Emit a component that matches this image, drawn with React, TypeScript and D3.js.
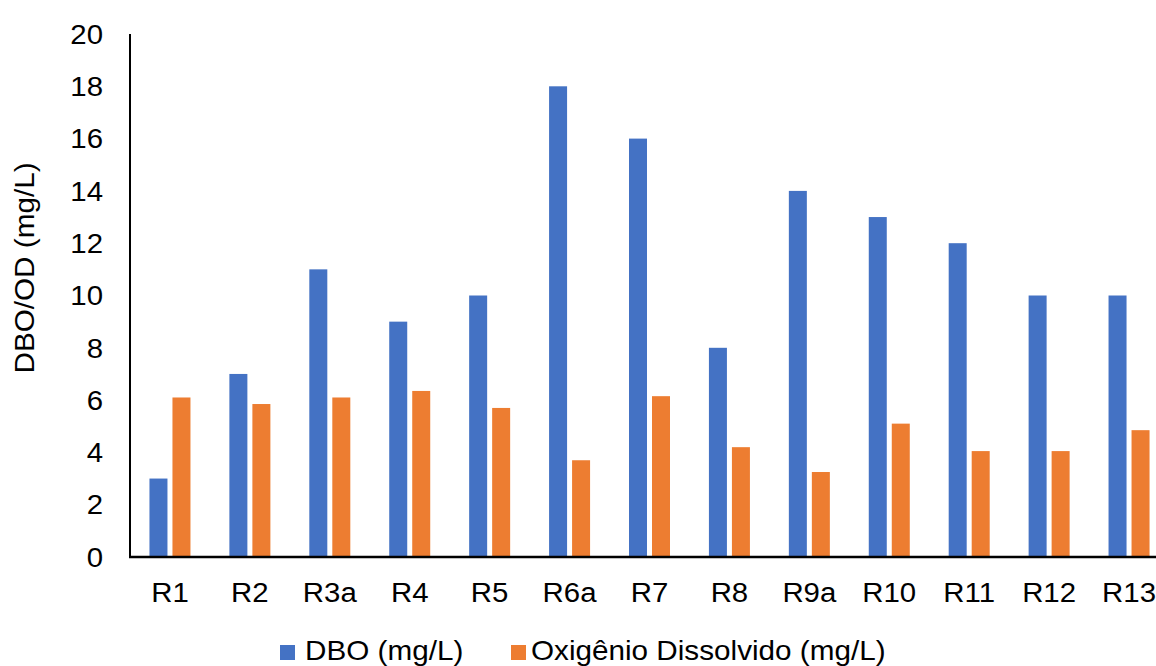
import React from "react";
import * as d3 from "d3";

const categories = ["R1", "R2", "R3a", "R4", "R5", "R6a", "R7", "R8", "R9a", "R10", "R11", "R12", "R13"];
const dbo = [3, 7, 11, 9, 10, 18, 16, 8, 14, 13, 12, 10, 10];
const od = [6.1, 5.85, 6.1, 6.35, 5.7, 3.7, 6.15, 4.2, 3.25, 5.1, 4.05, 4.05, 4.85];
const yTicks = [0, 2, 4, 6, 8, 10, 12, 14, 16, 18, 20];
const seriesNames = ["DBO (mg/L)", "Oxigênio Dissolvido (mg/L)"];
const colors = ["#4472C4", "#ED7D31"];

export default function App() {
  const W = 1156, H = 666;
  const left = 130, right = 1169, top = 34, bottom = 557;
  const x = d3.scaleBand<string>().domain(categories).range([left, right]).paddingInner(0).paddingOuter(0);
  const y = d3.scaleLinear().domain([0, 20]).range([bottom, top]);
  const bw = 18, gap = 5;
  const font = "Arial, 'Liberation Sans', sans-serif";
  const fs = 28;
  const series = [dbo, od];
  return (
    <svg width={W} height={H} style={{ position: "absolute", left: 0, top: 0, background: "#fff" }}>
      <rect x={0} y={0} width={W} height={H} fill="#fff" />
      {series.map((vals, si) =>
        vals.map((v, i) => {
          const c = x(categories[i])! + x.bandwidth() / 2;
          const bx = si === 0 ? c - gap / 2 - bw : c + gap / 2;
          return (
            <rect key={si + "-" + i} x={bx} y={y(v)} width={bw} height={bottom - y(v)} fill={colors[si]} />
          );
        })
      )}
      <line x1={left} x2={left} y1={top} y2={bottom} stroke="#000" strokeWidth={2} />
      <line x1={left - 1} x2={W} y1={bottom} y2={bottom} stroke="#000" strokeWidth={2.5} />
      {yTicks.map((t) => (
        <text key={t} x={103} y={y(t)} dy="0.35em" textAnchor="end" fontSize={fs} fontFamily={font} fill="#000"
          transform={`translate(103,0) scale(1.05,1) translate(-103,0)`}>
          {t}
        </text>
      ))}
      {categories.map((c) => {
        const cx = x(c)! + x.bandwidth() / 2;
        return (
          <text key={c} x={cx} y={602} textAnchor="middle" fontSize={fs} fontFamily={font} fill="#000"
            transform={`translate(${cx},0) scale(1.05,1) translate(${-cx},0)`}>
            {c}
          </text>
        );
      })}
      <text
        transform={`translate(34, 268) rotate(-90) scale(1.06,1)`}
        textAnchor="middle"
        fontSize={fs}
        fontFamily={font}
        fill="#000"
      >
        DBO/OD (mg/L)
      </text>
      <g>
        <rect x={280} y={645} width={15} height={15} fill={colors[0]} />
        <text x={305} y={660} fontSize={fs} fontFamily={font} fill="#000"
          transform={`translate(305,0) scale(1.06,1) translate(-305,0)`}>{seriesNames[0]}</text>
        <rect x={511} y={645} width={15} height={15} fill={colors[1]} />
        <text x={531} y={660} fontSize={fs} fontFamily={font} fill="#000"
          transform={`translate(531,0) scale(1.06,1) translate(-531,0)`}>{seriesNames[1]}</text>
      </g>
    </svg>
  );
}
